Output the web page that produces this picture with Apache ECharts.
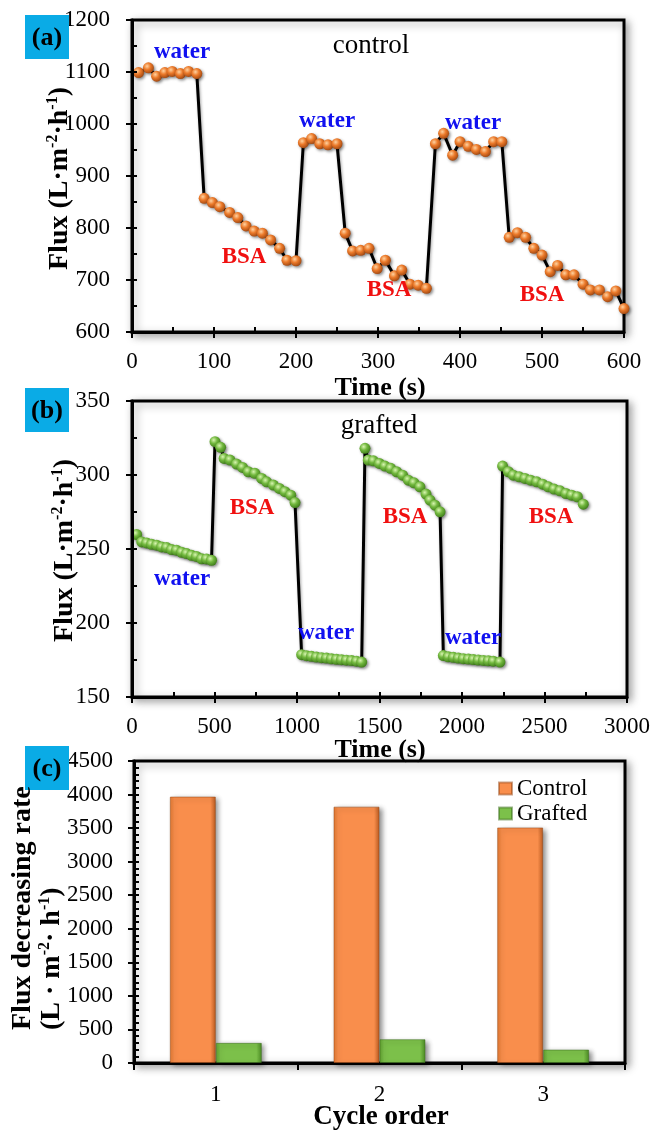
<!DOCTYPE html>
<html><head><meta charset="utf-8">
<script src="https://cdn.jsdelivr.net/npm/echarts@6/dist/echarts.min.js"></script>
<style>html,body{margin:0;padding:0;background:#fff}#c{width:655px;height:1130px}</style>
</head><body><div id="c"></div>
<script>
// ---- Panel (a): control membrane ----
const controlTime = [8,20,30,40,49,59,69,79, 88,98,107,119,129,139,149,159,169,180,189,200, 209,219,229,239,250, 260,269,279,289,299,309,320,329,339,349,359, 370,380,391,400,410,420,431,441,451, 460,470,480,490,500,510,519,529,539,550,559,570,580,590,600];
const controlFlux = [1099,1108,1092,1099,1101,1097,1101,1097, 857,849,841,830,820,804,794,790,777,761,738,737, 964,972,962,960,962, 790,756,757,761,722,738,708,719,692,690,684, 962,982,940,966,957,951,947,966,966, 782,791,782,761,748,716,728,710,710,692,681,681,668,679,645];
// ---- Panel (b): grafted membrane ----
const graftedTime = [28,59,89,119,150,180,210,240,270,301,331,361,391,422,452,482,
  503,537,558,594,634,670,705,745,786,816,857,893,927,962,988,
  1028,1058,1088,1118,1149,1179,1209,1240,1270,1300,1331,1361,1392,
  1412,1432,1463,1499,1533,1568,1604,1640,1675,1709,1745,1782,1806,1836,1867,
  1887,1917,1948,1978,2008,2039,2069,2099,2130,2160,2190,2230,
  2246,2281,2311,2347,2382,2416,2453,2489,2523,2558,2594,2630,2665,2699,2735];
const graftedFlux = [259.8,254.8,254.1,253.2,252.6,251.4,251.0,249.6,249.2,247.8,246.9,245.7,245.0,243.4,243.3,242.4,
  322.5,318.7,311.2,310.1,307.4,305.1,302.2,301.1,297.7,295.4,293.2,290.9,288.7,286.4,281.4,
  178.6,177.9,177.5,177.0,176.6,176.3,175.8,175.5,175.2,174.9,174.6,174.2,173.6,
  318.0,310.1,309.6,307.8,306.0,304.5,302.2,299.9,296.5,294.7,292.0,287.1,283.0,279.6,275.1,
  178.0,177.2,176.8,176.3,175.9,175.6,175.3,175.0,174.7,174.5,174.2,173.6,
  306.0,302.2,299.9,298.8,297.7,296.5,295.4,293.8,292.0,290.5,289.3,287.5,286.4,285.3,280.3];
// ---- Panel (c): flux decreasing rate ----
const cycles = ['1','2','3'];
const controlRate = [3970, 3820, 3510];
const graftedRate = [300, 355, 200];
// axis ranges [min, max, major, minor]
const aX = [0, 600, 100, 50];
const aY = [600, 1200, 100, 50];
const bX = [0, 3000, 500, 250];
const bY = [150, 350, 50, 25];
const cY = [0, 4500, 500, 100];

const FF = "'Liberation Serif','Times New Roman',serif";
const chart = echarts.init(document.getElementById('c'));

function axisPair(grid, r, pos, margin) {
  const main = {
    type: 'value', gridIndex: grid, position: pos, min: r[0], max: r[1], interval: r[2], z: 5,
    axisLine: {show: true, onZero: false, lineStyle: {color: '#000', width: 3}},
    axisTick: {show: true, inside: false, length: 6, lineStyle: {color: '#000', width: 2}},
    axisLabel: {show: true, fontFamily: FF, fontSize: 23, color: '#000', margin: margin, formatter: v => String(v)},
    splitLine: {show: false}
  };
  const minor = {
    type: 'value', gridIndex: grid, position: pos, min: r[0], max: r[1], interval: r[3], z: 6,
    axisLine: {show: false},
    axisTick: {show: true, inside: true, length: 5, lineStyle: {color: '#000', width: 2}},
    axisLabel: {show: false},
    splitLine: {show: false}
  };
  return [main, minor];
}

const gridStyle = {show: true, backgroundColor: '#fff', borderColor: '#000', borderWidth: 3,
  shadowBlur: 8, shadowColor: 'rgba(0,0,0,0.35)', shadowOffsetX: 3, shadowOffsetY: 3};

const xAxes = [...axisPair(0, aX, 'bottom', 18), ...axisPair(1, bX, 'bottom', 18), {
  type: 'category', gridIndex: 2, position: 'bottom', data: cycles,
  axisLine: {show: true, lineStyle: {color: '#000', width: 3}},
  axisTick: {show: true, inside: false, length: 7, alignWithLabel: false, lineStyle: {color: '#000', width: 2}},
  axisLabel: {fontFamily: FF, fontSize: 23, color: '#000', margin: 20},
  splitLine: {show: false}
}];
const yAxes = [...axisPair(0, aY, 'left', 22), ...axisPair(1, bY, 'left', 22), ...axisPair(2, cY, 'left', 21)];

function ball(c0, c1, c2) {
  return {type: 'radial', x: 0.38, y: 0.35, r: 0.7,
    colorStops: [{offset: 0, color: c0}, {offset: 0.45, color: c1}, {offset: 1, color: c2}]};
}
function barGrad(e0, c, e1) {
  return {type: 'linear', x: 0, y: 0, x2: 1, y2: 0,
    colorStops: [{offset: 0, color: e0}, {offset: 0.1, color: c}, {offset: 0.88, color: c}, {offset: 1, color: e1}]};
}

const lineCommon = {
  type: 'line', smooth: false, symbol: 'circle', symbolSize: 11, clip: false, animation: false,
  lineStyle: {color: '#000', width: 3, shadowBlur: 3, shadowColor: 'rgba(0,0,0,0.35)', shadowOffsetX: 1, shadowOffsetY: 1}
};

const rich = {sup: {fontSize: 16, fontWeight: 'bold', fontFamily: FF, verticalAlign: 'top', lineHeight: 16, fill: '#000'}};
function txt(x, y, text, size, color, bold) {
  return {type: 'text', x: x, y: y, z: 100,
    style: {text: text, fontFamily: FF, fontSize: size, fontWeight: bold ? 'bold' : 'normal', fill: color,
      textAlign: 'center', textVerticalAlign: 'middle'}};
}
function yTitle(x, y, text) {
  return {type: 'text', x: x, y: y, rotation: Math.PI / 2, z: 100,
    style: {text: text, fontFamily: FF, fontSize: 28, fontWeight: 'bold', fill: '#000', lineHeight: 30,
      textAlign: 'left', textVerticalAlign: 'middle', rich: rich}};
}
function tag(x, y, text) {
  return [{type: 'rect', shape: {x: x, y: y, width: 44, height: 44}, z: 90, style: {fill: '#0AABE6'}},
    txt(x + 22, y + 23, text, 26, '#000', true)];
}

const option = {
  animation: false,
  backgroundColor: '#fff',
  grid: [
    Object.assign({left: 132, top: 20, right: 31, height: 312}, gridStyle),
    Object.assign({left: 132, top: 401, right: 28, height: 296}, gridStyle),
    Object.assign({left: 134, top: 761, right: 30, height: 302}, gridStyle)
  ],
  xAxis: xAxes,
  yAxis: yAxes,
  legend: {
    data: ['Control', 'Grafted'], orient: 'vertical', left: 493, top: 772, icon: 'rect',
    itemWidth: 13, itemHeight: 12, itemGap: 2,
    textStyle: {fontFamily: FF, fontSize: 23, color: '#000'}
  },
  series: [
    Object.assign({}, lineCommon, {
      name: 'control', xAxisIndex: 0, yAxisIndex: 0,
      data: controlTime.map((t, i) => [t, controlFlux[i]]),
      itemStyle: {color: ball('#FFD2A0', '#EC7A2A', '#9C4510'), shadowBlur: 3, shadowColor: 'rgba(0,0,0,0.45)', shadowOffsetX: 1.5, shadowOffsetY: 1.5}
    }),
    Object.assign({}, lineCommon, {
      name: 'grafted', xAxisIndex: 2, yAxisIndex: 2,
      data: graftedTime.map((t, i) => [t, graftedFlux[i]]),
      itemStyle: {color: ball('#D8F5B0', '#72B83E', '#3C7A18'), shadowBlur: 3, shadowColor: 'rgba(0,0,0,0.45)', shadowOffsetX: 1.5, shadowOffsetY: 1.5}
    }),
    {
      name: 'Control', type: 'bar', xAxisIndex: 4, yAxisIndex: 4, data: controlRate,
      barWidth: 46, barGap: '0%',
      itemStyle: {color: barGrad('#E07830', '#F98E4C', '#B95A20'), borderColor: 'rgba(150,70,20,0.5)', borderWidth: 1,
        shadowBlur: 5, shadowColor: 'rgba(0,0,0,0.45)', shadowOffsetX: 3, shadowOffsetY: 2}
    },
    {
      name: 'Grafted', type: 'bar', xAxisIndex: 4, yAxisIndex: 4, data: graftedRate,
      barWidth: 46, barGap: '0%',
      itemStyle: {color: barGrad('#5E9E2E', '#7CC04A', '#4A8A22'), borderColor: 'rgba(60,110,30,0.5)', borderWidth: 1,
        shadowBlur: 5, shadowColor: 'rgba(0,0,0,0.45)', shadowOffsetX: 3, shadowOffsetY: 2}
    }
  ],
  graphic: [
    ...tag(25, 15, '(a)'), ...tag(25, 388, '(b)'), ...tag(25, 746, '(c)'),
    yTitle(60, 270, 'Flux (L·m{sup|-2}·h{sup|-1})'),
    yTitle(65, 642, 'Flux (L·m{sup|-2}·h{sup|-1})'),
    yTitle(23, 1030, 'Flux decreasing rate'),
    yTitle(52, 1030, '(L · m{sup|-2}· h{sup|-1})'),
    txt(380, 388, 'Time (s)', 26, '#000', true),
    txt(380, 750, 'Time (s)', 26, '#000', true),
    txt(381, 1117, 'Cycle order', 27, '#000', true),
    txt(371, 46, 'control', 27, '#000', false),
    txt(379, 426, 'grafted', 27, '#000', false),
    txt(182, 52, 'water', 23, '#1010F0', true),
    txt(327, 121, 'water', 23, '#1010F0', true),
    txt(473, 123, 'water', 23, '#1010F0', true),
    txt(244, 257, 'BSA', 23, '#F01010', true),
    txt(389, 290, 'BSA', 23, '#F01010', true),
    txt(542, 295, 'BSA', 23, '#F01010', true),
    txt(182, 579, 'water', 23, '#1010F0', true),
    txt(326, 633, 'water', 23, '#1010F0', true),
    txt(473, 638, 'water', 23, '#1010F0', true),
    txt(252, 508, 'BSA', 23, '#F01010', true),
    txt(405, 517, 'BSA', 23, '#F01010', true),
    txt(551, 517, 'BSA', 23, '#F01010', true)
  ]
};
chart.setOption(option);
</script></body></html>
